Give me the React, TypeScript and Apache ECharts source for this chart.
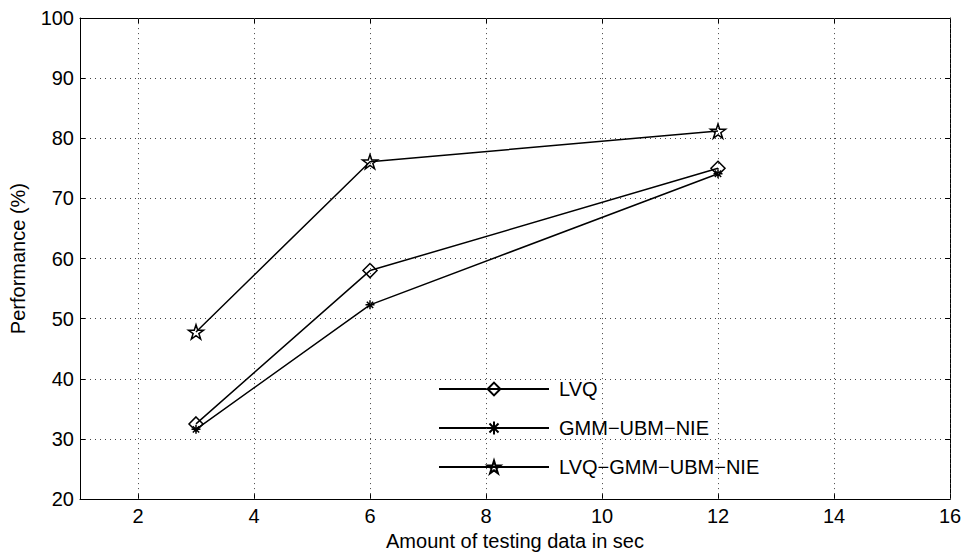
import React, { useEffect, useRef } from "react";
import * as echarts from "echarts";

const xValues = [3, 6, 12];
const lvq = [32.5, 58.0, 75.0];
const gmmUbmNie = [31.6, 52.3, 74.1];
const lvqGmmUbmNie = [47.8, 76.1, 81.2];
const seriesNames = ["LVQ", "GMM\u2212UBM\u2212NIE", "LVQ\u2212GMM\u2212UBM\u2212NIE"];
const xTicks = [2, 4, 6, 8, 10, 12, 14, 16];
const yTicks = [20, 30, 40, 50, 60, 70, 80, 90, 100];

const FONT = "Liberation Sans, Arial, Helvetica, sans-serif";
const FS = 20;

const starPath =
  "path://M0,-100L22.45,-30.9L95.11,-30.9L36.33,11.8L58.78,80.9L0,38.2L-58.78,80.9L-36.33,11.8L-95.11,-30.9L-22.45,-30.9Z";
const asteriskPath =
  "path://M0,-100L0,100M-100,0L100,0M-70.7,-70.7L70.7,70.7M-70.7,70.7L70.7,-70.7";

export default function App() {
  const ref = useRef<HTMLDivElement>(null);
  useEffect(() => {
    if (!ref.current) return;
    const chart = echarts.init(ref.current, undefined, { renderer: "svg" });
    const pair = (ys: number[]) => xValues.map((x, i) => [x, ys[i]]);
    const baseSeries = (name: string, ys: number[], symbol: string, size: number) => ({
      name,
      type: "line",
      data: pair(ys),
      symbol,
      symbolSize: size,
      symbolKeepAspect: true,
      lineStyle: { color: "#000", width: 1.5 },
      itemStyle: { color: "rgba(255,255,255,0)", borderColor: "#000", borderWidth: 1.5 },
      emphasis: { disabled: true },
      z: 3,
    });
    const axisCommon = {
      type: "value",
      axisLine: { show: true, lineStyle: { color: "#000", width: 1 } },
      axisTick: { show: true, inside: true, length: 5, lineStyle: { color: "#000" } },
    };
    const gridDots = { color: "#444", width: 1, type: [1, 4] };
    chart.setOption({
      animation: false,
      grid: { left: 80, top: 18, width: 870, height: 488, containLabel: false },
      legend: {
        orient: "vertical",
        left: 438,
        top: 379,
        padding: 0,
        itemWidth: 110,
        itemHeight: 16,
        itemGap: 19,
        textStyle: { fontFamily: FONT, fontSize: FS, color: "#000", lineHeight: 20, padding: [0, 0, 0, 5] },
        data: seriesNames,
      },
      xAxis: [
        {
          ...axisCommon,
          min: 1,
          max: 16,
          interval: 2,
          axisLabel: {
            fontFamily: FONT,
            fontSize: FS,
            color: "#000",
            margin: 7,
            customValues: xTicks,
          },
          axisTick: { show: true, inside: true, length: 5, lineStyle: { color: "#000" }, customValues: xTicks },
          splitLine: { show: false },
          name: "Amount of testing data in sec",
          nameLocation: "middle",
          nameGap: 30,
          nameTextStyle: { fontFamily: FONT, fontSize: FS, color: "#000" },
        },
        {
          ...axisCommon,
          position: "top",
          min: 1,
          max: 16,
          axisLabel: { show: false },
          axisTick: { show: true, inside: true, length: 5, lineStyle: { color: "#000" }, customValues: xTicks },
          splitLine: { show: false },
        },
      ],
      yAxis: [
        {
          ...axisCommon,
          min: 20,
          max: 100,
          interval: 10,
          axisLabel: { fontFamily: FONT, fontSize: FS, color: "#000", margin: 6, customValues: yTicks },
          splitLine: { show: true, lineStyle: gridDots },
          name: "Performance (%)",
          nameLocation: "middle",
          nameGap: 52,
          nameTextStyle: { fontFamily: FONT, fontSize: FS, color: "#000" },
        },
        {
          ...axisCommon,
          position: "right",
          min: 20,
          max: 100,
          interval: 10,
          axisLabel: { show: false },
          splitLine: { show: false },
        },
      ],
      series: [
        baseSeries(seriesNames[0], lvq, "diamond", 14),
        baseSeries(seriesNames[1], gmmUbmNie, asteriskPath, 9),
        baseSeries(seriesNames[2], lvqGmmUbmNie, starPath, 15),
        {
          type: "line",
          data: [],
          markLine: {
            silent: true,
            symbol: "none",
            label: { show: false },
            lineStyle: gridDots,
            data: xTicks.map((v) => ({ xAxis: v })),
          },
        },
      ],
    });
    return () => chart.dispose();
  }, []);
  return <div ref={ref} style={{ width: 965, height: 556, position: "absolute", left: 0, top: 0 }} />;
}
